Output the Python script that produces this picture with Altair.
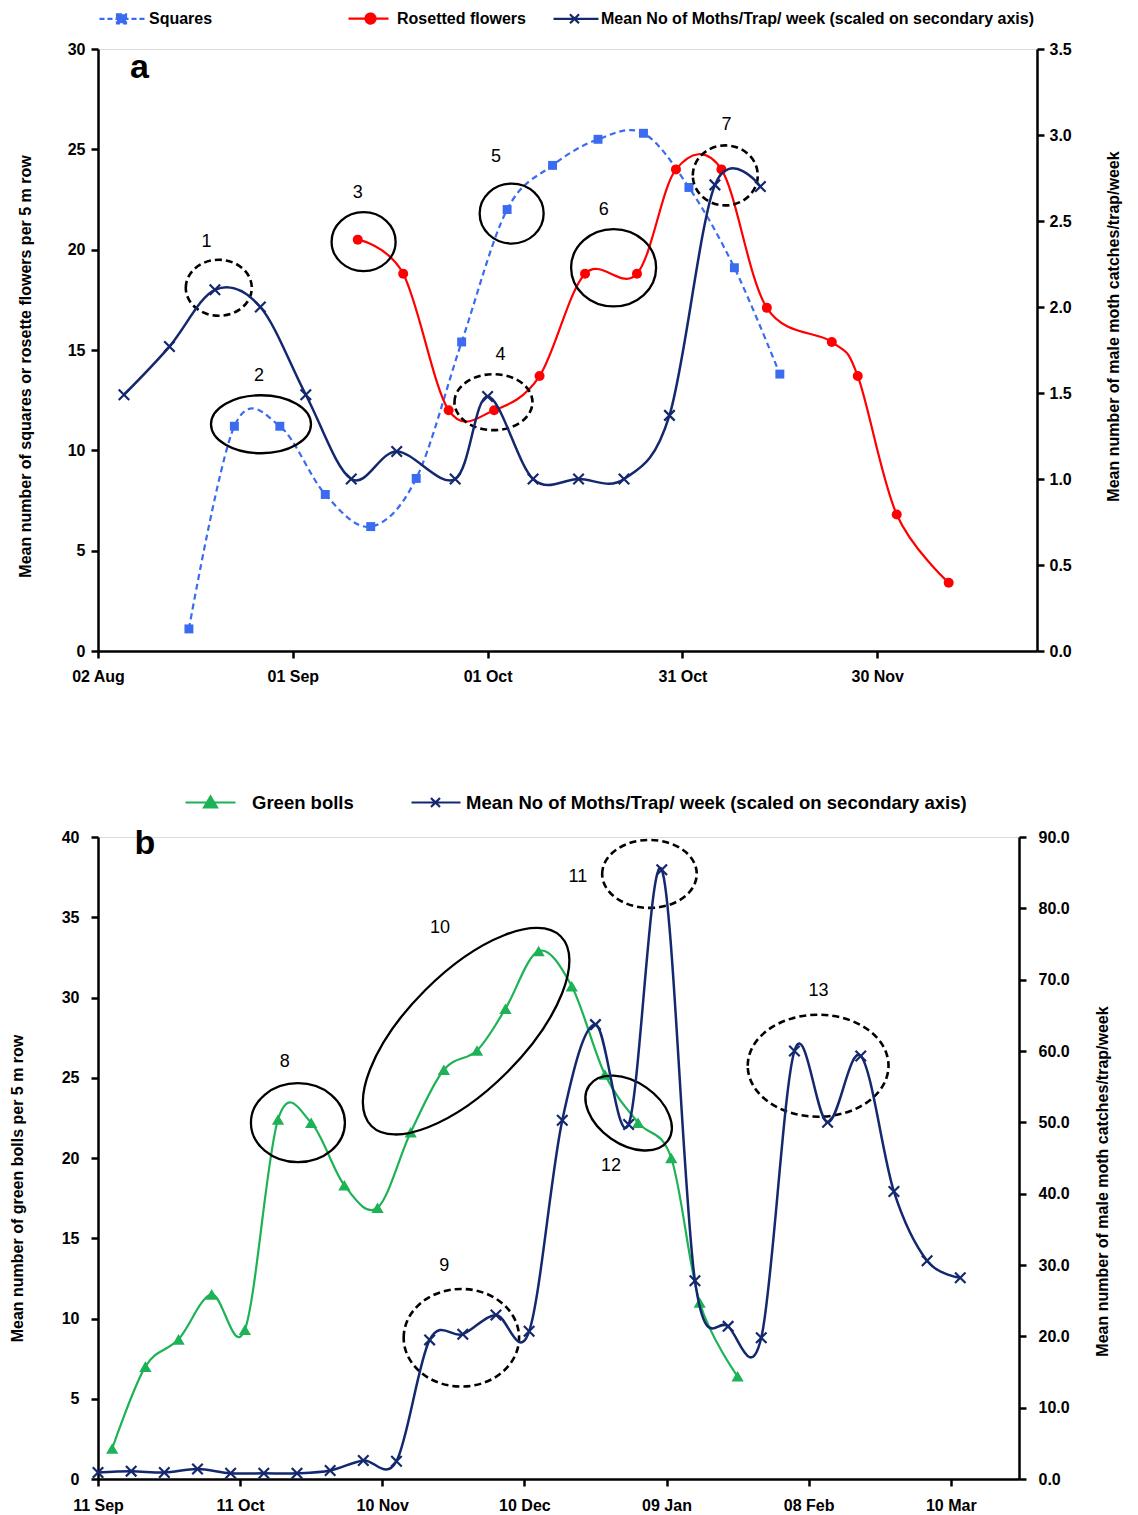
import altair as alt
import pandas as pd

FONT = "Liberation Sans Narrow, Arial Narrow, Liberation Sans, Arial, sans-serif"
FONT_WIDE = "Liberation Sans, Arial, sans-serif"
NAVY = "#13286E"
BLUE = "#3A6BF0"
RED = "#FF0000"
GREEN = "#1DB256"
MOTH_NAME = "Mean No of Moths/Trap/ week (scaled on secondary axis)"

# ---------------- panel a ----------------
a_tick_dates = ["2015-08-02", "2015-09-01", "2015-10-01", "2015-10-31", "2015-11-30"]
a_xmax_days = 144.6

a_square_dates = ["2015-08-16", "2015-08-23", "2015-08-30", "2015-09-06", "2015-09-13", "2015-09-20",
                  "2015-09-27", "2015-10-04", "2015-10-11", "2015-10-18", "2015-10-25", "2015-11-01",
                  "2015-11-08", "2015-11-15"]
a_square_vals = [1.1, 11.2, 11.2, 7.8, 6.2, 8.6, 15.4, 22.0, 24.2, 25.5, 25.8, 23.1, 19.1, 13.8]

a_rosette_dates = ["2015-09-11", "2015-09-18", "2015-09-25", "2015-10-02", "2015-10-09", "2015-10-16",
                   "2015-10-24", "2015-10-30", "2015-11-06", "2015-11-13", "2015-11-23", "2015-11-27",
                   "2015-12-03", "2015-12-11"]
a_rosette_vals = [20.5, 18.8, 12.0, 12.0, 13.7, 18.8, 18.8, 24.0, 24.0, 17.1, 15.4, 13.7, 6.8, 3.4]

a_moth_dates = ["2015-08-06", "2015-08-13", "2015-08-20", "2015-08-27", "2015-09-03", "2015-09-10",
                "2015-09-17", "2015-09-26", "2015-10-01", "2015-10-08", "2015-10-15", "2015-10-22",
                "2015-10-29", "2015-11-05", "2015-11-12"]
a_moth_vals = [1.49, 1.77, 2.10, 2.00, 1.49, 1.00, 1.16, 1.00, 1.48, 1.00, 1.00, 1.00, 1.37, 2.71, 2.70]

a_ann_ids = ["1", "2", "3", "4", "5", "6", "7"]
a_ann_day = [18.6, 25.1, 40.9, 60.9, 63.7, 79.4, 96.6]
a_ann_val = [18.1, 11.3, 20.4, 12.4, 21.8, 19.1, 23.7]
a_ann_rx = [33, 50, 32, 39, 32, 42.5, 32.5]
a_ann_ry = [28, 29, 29.5, 28, 30, 38.7, 30]
a_ann_angle = [0, 0, 0, 0, 0, 0, 0]
a_ann_dashed = [True, False, False, True, False, False, True]
a_lab_day = [16.7, 24.8, 40.0, 62.0, 61.3, 77.9, 96.8]
a_lab_val = [20.4, 13.7, 22.8, 14.75, 24.6, 22.0, 26.2]

# ---------------- panel b ----------------
b_tick_dates = ["2016-09-11", "2016-10-11", "2016-11-10", "2016-12-10", "2017-01-09", "2017-02-08", "2017-03-10"]
b_xmax_days = 194.4

b_green_dates = ["2016-09-14", "2016-09-21", "2016-09-28", "2016-10-05", "2016-10-12", "2016-10-19",
                 "2016-10-26", "2016-11-02", "2016-11-09", "2016-11-16", "2016-11-23", "2016-11-30",
                 "2016-12-06", "2016-12-13", "2016-12-20", "2016-12-27", "2017-01-03", "2017-01-10",
                 "2017-01-16", "2017-01-24"]
b_green_vals = [1.9, 7.0, 8.7, 11.5, 9.3, 22.4, 22.2, 18.3, 16.9, 21.6, 25.5, 26.7, 29.3, 32.9,
                30.7, 25.2, 22.2, 20.0, 11.0, 6.4]

b_moth_dates = ["2016-09-11", "2016-09-18", "2016-09-25", "2016-10-02", "2016-10-09", "2016-10-16",
                "2016-10-23", "2016-10-30", "2016-11-06", "2016-11-13", "2016-11-20", "2016-11-27",
                "2016-12-04", "2016-12-11", "2016-12-18", "2016-12-25", "2017-01-01", "2017-01-08",
                "2017-01-15", "2017-01-22", "2017-01-29", "2017-02-05", "2017-02-12", "2017-02-19",
                "2017-02-26", "2017-03-05", "2017-03-12"]
b_moth_vals = [0.9, 1.1, 0.9, 1.4, 0.8, 0.8, 0.8, 1.2, 2.6, 2.5, 19.5, 20.3, 23.0, 20.7, 50.3, 63.7,
               49.7, 85.4, 27.8, 21.4, 19.8, 60.0, 50.0, 59.3, 40.3, 30.6, 28.2]

b_ann_ids = ["8", "9", "10", "11", "12", "13"]
b_ann_day = [42.2, 76.7, 77.7, 116.4, 112.0, 152.0]
b_ann_val = [22.2, 8.8, 27.9, 37.7, 22.8, 25.75]
b_ann_rx = [47, 57.7, 134, 47.3, 48, 70.4]
b_ann_ry = [39.5, 48.8, 58, 34, 31, 51]
b_ann_angle = [0, 0, 315, 0, 35, 0]
b_ann_dashed = [False, True, False, True, False, True]
b_lab_day = [39.4, 73.1, 72.2, 101.3, 108.3, 152.1]
b_lab_val = [26.0, 13.3, 34.35, 37.5, 19.5, 30.4]

# legend symbol paths (line + marker), in symbol units
P_SQ = "M -3.0 0 H 1.7 M -1.25 -0.45 H -0.35 V 0.45 H -1.25 Z"
P_CI = "M -2.9 0 H 1.1 M -0.2 0 A 0.5 0.5 0 1 1 -1.2 0 A 0.5 0.5 0 1 1 -0.2 0 Z"
P_XA = "M -2.8 0 H 1.7 M -1.15 -0.45 L -0.25 0.45 M -1.15 0.45 L -0.25 -0.45"
P_TR = "M -4.7 0 H 0.3 M -2.2 -0.6 L -1.55 0.5 H -2.85 Z"
P_XB = "M -3.5 0 H 1.4 M -1.55 -0.45 L -0.65 0.45 M -1.55 0.45 L -0.65 -0.45"
P_NONE = "M 0 0"
X_MARK = "M -1 -1 L 1 1 M -1 1 L 1 -1"


def days(dates, start):
    s = pd.Timestamp(start)
    return [(pd.Timestamp(d) - s).days for d in dates]


def ax(**extra):
    d = dict(domainColor="black", domainWidth=2.5, tickColor="black", tickWidth=2.5, tickSize=7,
             labelFont=FONT, labelFontSize=16, labelFontWeight="bold", labelColor="black",
             titleFont=FONT, titleFontSize=16, titleFontWeight="bold", titleColor="black",
             grid=False, labelOverlap=False)
    d.update(extra)
    return d


def build_panel(p):
    start = p["ticks"][0]
    tick_days = days(p["ticks"], start)
    tick_labels = [pd.Timestamp(t).strftime("%d %b") for t in p["ticks"]]
    label_expr = " : ".join(f"datum.value == {d} ? '{l}'" for d, l in zip(tick_days, tick_labels)) + " : ''"

    x = alt.X("day:Q", scale=alt.Scale(domain=[0, p["xmax"]], nice=False, zero=False),
              axis=alt.Axis(**ax(values=tick_days, labelExpr=label_expr, title=None,
                                 labelFlush=False, labelPadding=p["xlabpad"])))
    y1 = alt.Y("val:Q", scale=alt.Scale(domain=[0, p["ymax"]], nice=False),
               axis=alt.Axis(**ax(orient="left", values=p["yvals"], title=p["ytitle"],
                                  labelPadding=p["ylabpad"], titleAngle=270, titleBaseline="middle",
                                  titleAlign="center", titleX=p["ytx"], titleY=p["yty"])))
    y2 = alt.Y("val:Q", scale=alt.Scale(domain=[0, p["y2max"]], nice=False),
               axis=alt.Axis(**ax(orient="right", values=p["y2vals"], format=".1f", title=p["y2title"],
                                  labelPadding=p["y2labpad"], titleAngle=270, titleBaseline="middle",
                                  titleAlign="center", titleX=p["y2tx"], titleY=p["y2ty"])))

    prim = []
    for s in p["primary"]:
        df = pd.DataFrame({"day": days(s["dates"], start), "val": s["vals"]})
        lkw = dict(color=s["color"], strokeWidth=2.2, interpolate="cardinal")
        if s.get("dash"):
            lkw["strokeDash"] = s["dash"]
        prim.append(alt.Chart(df).mark_line(**lkw).encode(x=x, y=y1))
        prim.append(alt.Chart(df).mark_point(shape=s["shape"], filled=True, size=s["size"],
                                             color=s["color"], opacity=1).encode(x=x, y=y1))

    ann = pd.DataFrame({"id": p["ann_ids"], "day": p["ann_day"], "val": p["ann_val"],
                        "rx": p["ann_rx"], "ry": p["ann_ry"], "angle": p["ann_angle"],
                        "dashed": p["ann_dashed"]})
    ann["path"] = [f"M -1 0 A 1 {ry / rx:.4f} 0 1 1 1 0 A 1 {ry / rx:.4f} 0 1 1 -1 0 Z"
                   for rx, ry in zip(ann["rx"], ann["ry"])]
    ann["size"] = [(2 * rx) ** 2 for rx in ann["rx"]]
    ell_enc = dict(x=x, y=y1, shape=alt.Shape("path:N", scale=None),
                   size=alt.Size("size:Q", scale=None), angle=alt.Angle("angle:Q", scale=None))
    ell_solid = alt.Chart(ann).transform_filter("!datum.dashed").mark_point(
        filled=False, color="black", strokeWidth=2.3, opacity=1).encode(**ell_enc)
    ell_dash = alt.Chart(ann).transform_filter("datum.dashed").mark_point(
        filled=False, color="black", strokeWidth=2.6, opacity=1, strokeDash=[7, 4]).encode(**ell_enc)

    labs = pd.DataFrame({"id": p["ann_ids"], "day": p["lab_day"], "val": p["lab_val"]})
    lab_chart = alt.Chart(labs).mark_text(font=FONT, fontSize=18, color="black").encode(
        x=x, y=y1, text="id:N")

    letter = pd.DataFrame({"t": [p["letter"]], "day": [p["letter_day"]], "val": [p["letter_val"]]})
    letter_chart = alt.Chart(letter).mark_text(font=FONT_WIDE, fontSize=34, fontWeight="bold",
                                               color="black").encode(x=x, y=y1, text="t:N")

    names = p["leg_names"]
    legend = alt.Legend(title=None, orient="none", legendX=p["legx"], legendY=p["legy"],
                        direction="horizontal", columns=len(names), columnPadding=p["legpad"],
                        symbolSize=400, symbolStrokeWidth=2.2, labelFont=FONT,
                        labelFontSize=p["legfs"], labelFontWeight="bold", labelColor="black",
                        labelOffset=8, labelLimit=2000,
                        labelExpr="(datum.label == '_' || datum.label == '__') ? '' : datum.label")
    leg_df = pd.DataFrame({"series": names})
    leg_chart = alt.Chart(leg_df).transform_filter("false").mark_point(filled=True, opacity=1).encode(
        fill=alt.Fill("series:N", scale=alt.Scale(domain=names, range=p["leg_colors"]), legend=legend),
        stroke=alt.Stroke("series:N", scale=alt.Scale(domain=names, range=p["leg_colors"]), legend=legend),
        shape=alt.Shape("series:N", scale=alt.Scale(domain=names, range=p["leg_paths"]), legend=legend),
        strokeDash=alt.StrokeDash("series:N", scale=alt.Scale(domain=names, range=p["leg_dash"]),
                                  legend=legend),
    )

    mdf = pd.DataFrame({"day": days(p["moth_dates"], start), "val": p["moth_vals"]})
    moth_line = alt.Chart(mdf).mark_line(color=NAVY, strokeWidth=2.5, interpolate="cardinal").encode(x=x, y=y2)
    moth_pts = alt.Chart(mdf).mark_point(shape=X_MARK, filled=False, size=110, color=NAVY,
                                         strokeWidth=2.2, opacity=1).encode(x=x, y=y2)

    primary = alt.layer(*prim, ell_solid, ell_dash, lab_chart, letter_chart, leg_chart)
    secondary = alt.layer(moth_line, moth_pts)
    return alt.layer(primary, secondary).resolve_scale(y="independent").properties(
        width=p["width"], height=p["height"])


panel_a = build_panel(dict(
    ticks=a_tick_dates, xmax=a_xmax_days, xlabpad=10,
    ymax=30, yvals=[0, 5, 10, 15, 20, 25, 30], ylabpad=6,
    ytitle="Mean number of squares or rosette flowers per 5 m row", ytx=-73, yty=317,
    y2max=3.5, y2vals=[0, 0.5, 1.0, 1.5, 2.0, 2.5, 3.0, 3.5], y2labpad=5,
    y2title="Mean number of male moth catches/trap/week", y2tx=76, y2ty=277,
    primary=[
        dict(dates=a_square_dates, vals=a_square_vals, color=BLUE, shape="square", size=80, dash=[6, 4]),
        dict(dates=a_rosette_dates, vals=a_rosette_vals, color=RED, shape="circle", size=100),
    ],
    moth_dates=a_moth_dates, moth_vals=a_moth_vals,
    ann_ids=a_ann_ids, ann_day=a_ann_day, ann_val=a_ann_val, ann_rx=a_ann_rx, ann_ry=a_ann_ry,
    ann_angle=a_ann_angle, ann_dashed=a_ann_dashed, lab_day=a_lab_day, lab_val=a_lab_val,
    letter="a", letter_day=6.4, letter_val=29.05,
    leg_names=["Squares", "_", "__", "Rosetted flowers", MOTH_NAME],
    leg_colors=[BLUE, "transparent", "transparent", RED, NAVY],
    leg_paths=[P_SQ, P_NONE, P_NONE, P_CI, P_XA],
    leg_dash=[[5, 3], [1, 0], [1, 0], [1, 0], [1, 0]],
    legx=20, legy=-42, legpad=23, legfs=16,
    width=939, height=602,
))

panel_b = build_panel(dict(
    ticks=b_tick_dates, xmax=b_xmax_days, xlabpad=11,
    ymax=40, yvals=[0, 5, 10, 15, 20, 25, 30, 35, 40], ylabpad=12,
    ytitle="Mean number of green bolls per 5 m row", ytx=-81, yty=351,
    y2max=90, y2vals=[0, 10, 20, 30, 40, 50, 60, 70, 80, 90], y2labpad=12,
    y2title="Mean number of male moth catches/trap/week", y2tx=83, y2ty=344,
    primary=[
        dict(dates=b_green_dates, vals=b_green_vals, color=GREEN, shape="triangle-up", size=150),
    ],
    moth_dates=b_moth_dates, moth_vals=b_moth_vals,
    ann_ids=b_ann_ids, ann_day=b_ann_day, ann_val=b_ann_val, ann_rx=b_ann_rx, ann_ry=b_ann_ry,
    ann_angle=b_ann_angle, ann_dashed=b_ann_dashed, lab_day=b_lab_day, lab_val=b_lab_val,
    letter="b", letter_day=9.9, letter_val=39.56,
    leg_names=["Green bolls", MOTH_NAME],
    leg_colors=[GREEN, NAVY],
    leg_paths=[P_TR, P_XB],
    leg_dash=[[1, 0], [1, 0]],
    legx=123, legy=-46, legpad=53, legfs=18.5,
    width=921, height=642,
))

chart = alt.vconcat(panel_a, panel_b, spacing=186, bounds="flush").resolve_scale(
    fill="independent", stroke="independent", shape="independent", strokeDash="independent"
).resolve_legend(
    fill="independent", stroke="independent", shape="independent", strokeDash="independent"
).properties(
    padding={"left": 8, "top": 6, "right": 5, "bottom": 2}
).configure_view(stroke=None).configure(background="white")

chart.save("out.html", embed_options={"renderer": "svg", "actions": False})
